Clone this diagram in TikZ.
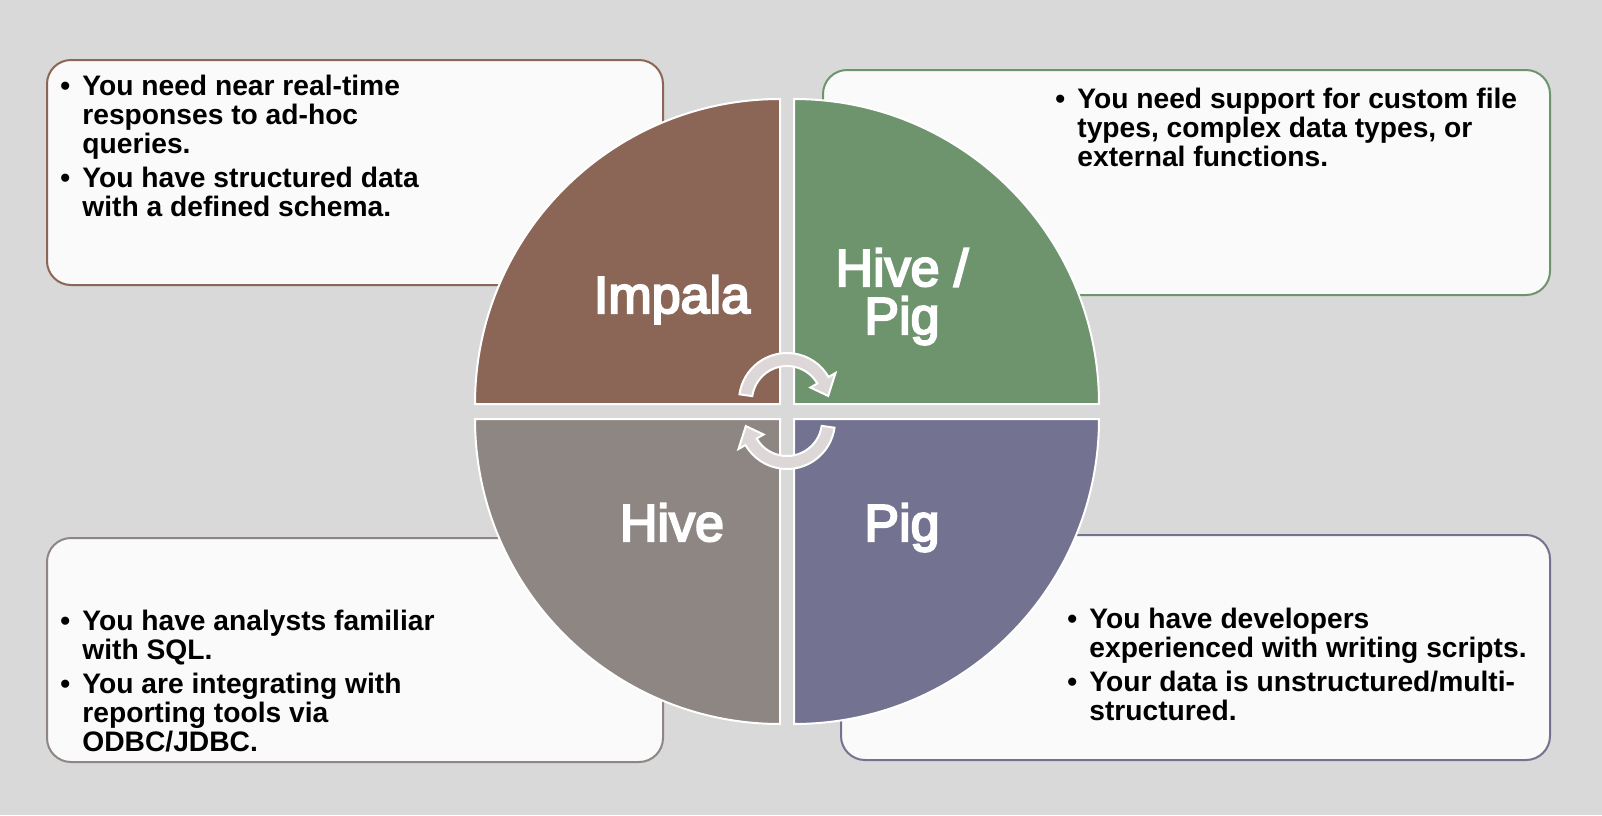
\documentclass[tikz,border=0pt]{standalone}
\usepackage{fontspec}
\setmainfont{Liberation Sans}
\newfontfamily\quadfont[FakeBold=4]{Liberation Sans}
\usetikzlibrary{calc}
\definecolor{bgc}{HTML}{D9D9D9}
\definecolor{boxfill}{HTML}{FAFAFA}
\definecolor{brownq}{HTML}{8B6656}
\definecolor{greenq}{HTML}{6E946E}
\definecolor{greyq}{HTML}{8E8682}
\definecolor{purpleq}{HTML}{737391}
\definecolor{arrowc}{HTML}{DDD7D7}
\begin{document}
\begin{tikzpicture}[x=0.5pt,y=-0.5pt,
  infobox/.style={fill=boxfill, line width=1pt, rounded corners=12pt},
  quad/.style={draw=white, line width=1pt},
  boxtext/.style={anchor=base west, inner sep=0pt, align=left,
    font=\bfseries\fontsize{14.1}{14.5}\selectfont, text=black},
  quadlabel/.style={anchor=base, inner sep=0pt, align=center, text=white,
    font=\quadfont\fontsize{26}{24}\selectfont},
  cyclearrow/.style={fill=arrowc, draw=white, line width=1pt}]
\useasboundingbox (0,0) rectangle (1602,815);
\fill[bgc] (0,0) rectangle (1602,815);
% info boxes
\draw[infobox, draw=brownq] (47,60) rectangle (663,285);
\draw[infobox, draw=greenq] (823,70) rectangle (1550,295);
\draw[infobox, draw=greyq] (47,538) rectangle (663,762);
\draw[infobox, draw=purpleq] (841,535) rectangle (1550,760);
% quadrants
\filldraw[quad, fill=brownq] (780,404) -- (475,404) arc[start angle=180, end angle=90, radius=152.5pt] -- cycle;
\filldraw[quad, fill=greenq] (794,404) -- (794,99) arc[start angle=90, end angle=0, radius=152.5pt] -- cycle;
\filldraw[quad, fill=greyq] (780,419) -- (780,724) arc[start angle=270, end angle=180, radius=152.5pt] -- cycle;
\filldraw[quad, fill=purpleq] (794,419) -- (1099,419) arc[start angle=0, end angle=-90, radius=152.5pt] -- cycle;
% cycle arrows
\coordinate (c1) at (787,401);
\coordinate (c2) at (787,421);
\filldraw[cyclearrow] ($(c1)+(172:24pt)$) arc[start angle=172, end angle=30, radius=24pt]
  -- ($(c1)+(30:28pt)$) -- ($(c1)+(7:20.75pt)$) -- ($(c1)+(30:13.5pt)$)
  -- ($(c1)+(30:17.5pt)$) arc[start angle=30, end angle=172, radius=17.5pt] -- cycle;
\filldraw[cyclearrow] ($(c2)+(-8:24pt)$) arc[start angle=-8, end angle=-150, radius=24pt]
  -- ($(c2)+(-150:28pt)$) -- ($(c2)+(-173:20.75pt)$) -- ($(c2)+(-150:13.5pt)$)
  -- ($(c2)+(-150:17.5pt)$) arc[start angle=-150, end angle=-8, radius=17.5pt] -- cycle;
% quadrant labels
\node[quadlabel] (impala) at (672,313) {Impala};
\node[quadlabel] (hivepig) at (902,334) {Hive /\\Pig};
\node[quadlabel] (hive) at (672,541) {Hive};
\node[quadlabel] (pig) at (902,541) {Pig};
% box texts (anchored at the baseline of the last line)
\node[boxtext] (tltext) at (60,216) {\makebox[11pt][l]{•}You need near real-time\\
  \hspace*{11pt}responses to ad-hoc\\
  \hspace*{11pt}queries.\\[2.5pt]
  \makebox[11pt][l]{•}You have structured data\\
  \hspace*{11pt}with a defined schema.};
\node[boxtext] (trtext) at (1055,166) {\makebox[11pt][l]{•}You need support for custom file\\
  \hspace*{11pt}types, complex data types, or\\
  \hspace*{11pt}external functions.};
\node[boxtext] (bltext) at (60,751) {\makebox[11pt][l]{•}You have analysts familiar\\
  \hspace*{11pt}with SQL.\\[2.5pt]
  \makebox[11pt][l]{•}You are integrating with\\
  \hspace*{11pt}reporting tools via\\
  \hspace*{11pt}ODBC/JDBC.};
\node[boxtext] (brtext) at (1067,720) {\makebox[11pt][l]{•}You have developers\\
  \hspace*{11pt}experienced with writing scripts.\\[2.5pt]
  \makebox[11pt][l]{•}Your data is unstructured/multi-\\
  \hspace*{11pt}structured.};
\end{tikzpicture}
\end{document}
